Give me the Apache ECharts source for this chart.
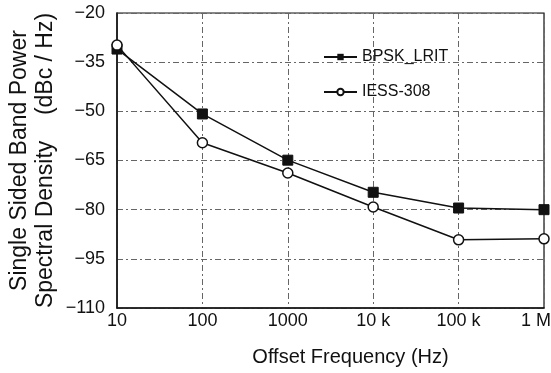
<!DOCTYPE html>
<html>
<head>
<meta charset="utf-8">
<script src="https://cdn.jsdelivr.net/npm/echarts@6/dist/echarts.min.js"></script>
<style>
  html, body { margin: 0; padding: 0; background: #fff; }
  #chart { width: 551px; height: 373px; }
</style>
</head>
<body>
<div id="chart"></div>
<script>
var freqLabels = ['10', '100', '1000', '10 k', '100 k', '1 M'];
var bpskLrit = [-31, -50.8, -64.9, -74.7, -79.5, -80];
var iess308 = [-29.8, -59.6, -68.8, -79.2, -89.2, -88.9];

var dom = document.getElementById("chart");
var myChart = echarts.init(dom);
var font = 'Liberation Sans';

// last label sits a bit left so it stays inside the picture
var xData = freqLabels.map(function (t, i) {
  if (i === freqLabels.length - 1) {
    return { value: t, textStyle: { padding: [0, 16, 0, 0] } };
  }
  return t;
});

var option = {
  animation: false,
  backgroundColor: '#fff',
  grid: {
    left: 117, right: 7, top: 13, bottom: 65,
    containLabel: false,
    outerBoundsMode: 'none',
    show: true, borderColor: '#111', borderWidth: 1.2
  },
  legend: {
    orient: 'vertical',
    left: 318, top: 44,
    itemGap: 19,
    itemWidth: 33, itemHeight: 8,
    textStyle: { fontFamily: font, fontSize: 16, color: '#111' },
    data: ['BPSK_LRIT', 'IESS-308']
  },
  xAxis: {
    type: 'category',
    data: xData,
    boundaryGap: false,
    name: 'Offset Frequency (Hz)',
    nameLocation: 'middle',
    nameGap: 39,
    nameMoveOverlap: false,
    nameTextStyle: { fontFamily: font, fontSize: 20, color: '#111', padding: [0, 0, 0, 40] },
    axisLine: { lineStyle: { color: '#111', width: 1.5 } },
    axisTick: { show: false },
    axisLabel: { fontFamily: font, fontSize: 18, color: '#111', margin: 4 },
    splitLine: { show: true, lineStyle: { color: '#666', width: 1, type: [6, 3, 2, 3] } }
  },
  yAxis: {
    type: 'value',
    min: -110, max: -20, interval: 15,
    name: 'Single Sided Band Power\nSpectral Density    (dBc / Hz)',
    nameLocation: 'middle',
    nameRotate: 90,
    nameGap: 58,
    nameMoveOverlap: false,
    nameTextStyle: { fontFamily: font, fontSize: 23, color: '#111', lineHeight: 26 },
    axisLine: { show: true, lineStyle: { color: '#111', width: 1.5 } },
    axisTick: { show: false },
    axisLabel: {
      fontFamily: font, fontSize: 18, color: '#111', margin: 12,
      formatter: function (v) { return String(v).replace('-', '\u2212'); }
    },
    splitLine: { show: true, lineStyle: { color: '#666', width: 1, type: [6, 3, 2, 3] } }
  },
  series: [
    {
      name: 'BPSK_LRIT',
      type: 'line',
      data: bpskLrit,
      symbol: 'rect',
      symbolSize: 10,
      lineStyle: { color: '#111', width: 1.5 },
      itemStyle: { color: '#111', borderColor: '#111' }
    },
    {
      name: 'IESS-308',
      type: 'line',
      data: iess308,
      symbol: 'circle',
      symbolSize: 10,
      lineStyle: { color: '#111', width: 1.5 },
      itemStyle: { color: '#fff', borderColor: '#111', borderWidth: 1.5 }
    }
  ]
};
myChart.setOption(option);
</script>
</body>
</html>
